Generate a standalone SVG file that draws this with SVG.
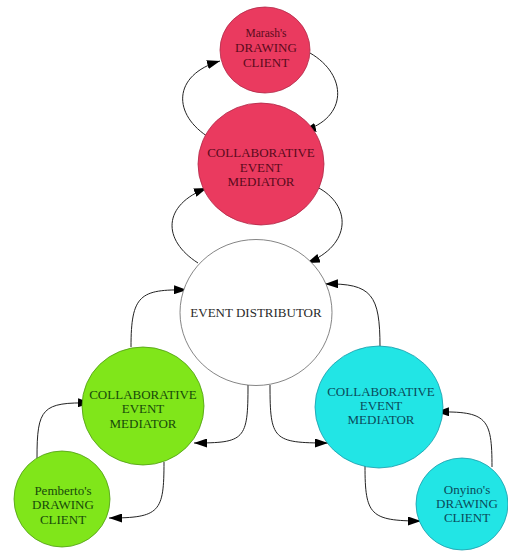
<svg xmlns="http://www.w3.org/2000/svg" width="508" height="552" viewBox="0 0 508 552">
<defs>
<marker id="ah" markerUnits="userSpaceOnUse" markerWidth="13" markerHeight="9" refX="13" refY="4.5" orient="auto">
<path d="M0,0 L13,4.5 L0,9 z" fill="#000"/>
</marker>
<style>
.edge{fill:none;stroke:#222;stroke-width:1;marker-end:url(#ah)}
text{font-family:"Liberation Serif","Times New Roman",serif;font-size:13px;text-anchor:middle}
.pink{fill:#EA3A5F;stroke:#B02848;stroke-width:0.8}
.green{fill:#80E61A;stroke:#4E9A12;stroke-width:0.8}
.cyan{fill:#22E5E5;stroke:#1A9AAA;stroke-width:0.8}
.white{fill:#fff;stroke:#666;stroke-width:0.8}
.tp{fill:#5A0A1C}
.tg{fill:#174A0A}
.tc{fill:#0A4A5A}
.tw{fill:#2a2a2a}
</style>
</defs>
<rect width="508" height="552" fill="#fff"/>
<g id="connectors">
<path class="edge" d="M210,138 C172,115 172,75 220,61"/>
<path class="edge" d="M310,53 C348,75 348,118 303,131"/>
<path class="edge" d="M198,263 C162,240 162,205 207,188"/>
<path class="edge" d="M317,187 C352,205 352,245 307,263"/>
<path class="edge" d="M131,347 C131,295 140,289 187,290"/>
<path class="edge" d="M380,347 C380,295 372,283 325,284"/>
<path class="edge" d="M248,385 C248,440 245,443 194,443"/>
<path class="edge" d="M270,385 C270,440 273,443 328,443"/>
<path class="edge" d="M37,458 C37,408 42,402 91,403"/>
<path class="edge" d="M164,462 C164,512 160,518 109,518"/>
<path class="edge" d="M365,466 C365,515 370,521 421,521"/>
<path class="edge" d="M492,467 C492,418 487,411 436,412"/>
</g>
<g id="marash-client">
<ellipse class="pink" cx="265" cy="50" rx="45" ry="43"/>
<text class="tp" x="266" y="37" style="font-size:11.5px">Marash's</text>
<text class="tp" x="266" y="52">DRAWING</text>
<text class="tp" x="266" y="67">CLIENT</text>
</g>
<g id="top-mediator">
<ellipse class="pink" cx="261" cy="164" rx="63" ry="61"/>
<text class="tp" x="261" y="157">COLLABORATIVE</text>
<text class="tp" x="261" y="171.5">EVENT</text>
<text class="tp" x="261" y="186">MEDIATOR</text>
</g>
<g id="event-distributor">
<ellipse class="white" cx="256" cy="312.5" rx="76" ry="73"/>
<text class="tw" x="256" y="317">EVENT DISTRIBUTOR</text>
</g>
<g id="left-mediator">
<ellipse class="green" cx="143" cy="406" rx="61" ry="59"/>
<text class="tg" x="143" y="399">COLLABORATIVE</text>
<text class="tg" x="143" y="413">EVENT</text>
<text class="tg" x="143" y="428">MEDIATOR</text>
</g>
<g id="pemberto-client">
<ellipse class="green" cx="62" cy="499" rx="48" ry="48"/>
<text class="tg" x="63" y="495">Pemberto's</text>
<text class="tg" x="63" y="509">DRAWING</text>
<text class="tg" x="63" y="524">CLIENT</text>
</g>
<g id="right-mediator">
<ellipse class="cyan" cx="379" cy="407" rx="64" ry="61"/>
<text class="tc" x="381" y="396">COLLABORATIVE</text>
<text class="tc" x="381" y="410">EVENT</text>
<text class="tc" x="381" y="424">MEDIATOR</text>
</g>
<g id="onyino-client">
<ellipse class="cyan" cx="462" cy="504" rx="46" ry="46"/>
<text class="tc" x="467" y="494">Onyino's</text>
<text class="tc" x="467" y="508">DRAWING</text>
<text class="tc" x="467" y="522">CLIENT</text>
</g>
</svg>
